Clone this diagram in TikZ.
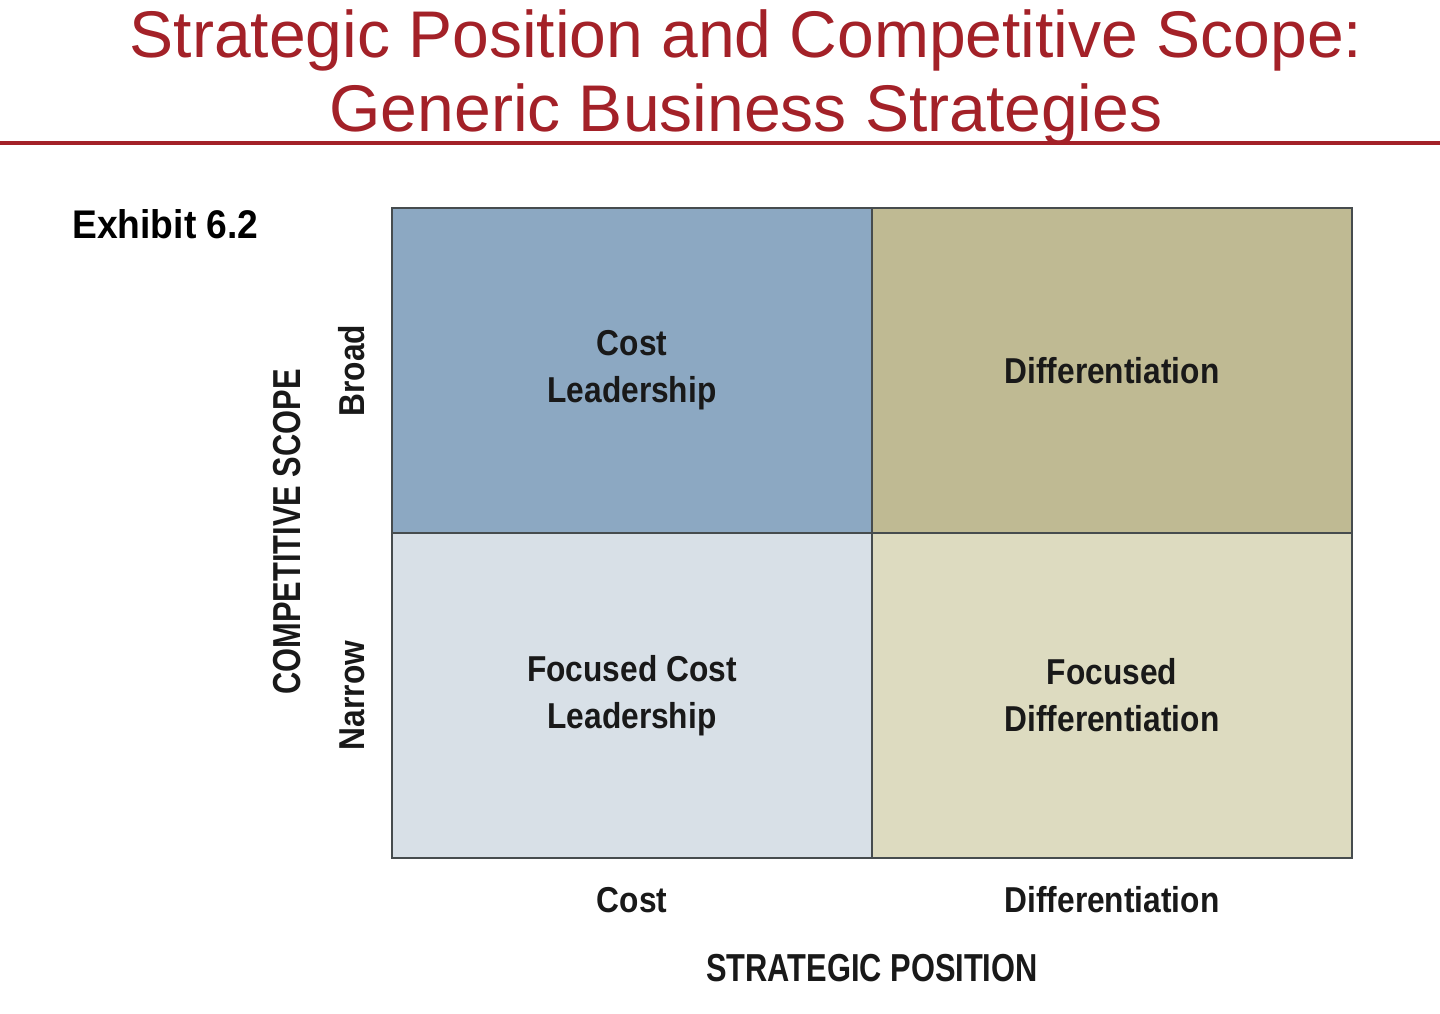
\documentclass[tikz,border=0pt]{standalone}
\usepackage{fontspec}
\setmainfont{Liberation Sans}
\newfontfamily\cellfont[FakeStretch=0.88]{Liberation Sans}
\newfontfamily\capsfont[FakeStretch=0.79]{Liberation Sans}
\newfontfamily\exhibitfont[FakeStretch=0.93]{Liberation Sans}
\usetikzlibrary{positioning}
\definecolor{titlered}{RGB}{163,33,40}
\definecolor{costbroad}{RGB}{140,168,194}
\definecolor{diffbroad}{RGB}{191,186,147}
\definecolor{costnarrow}{RGB}{216,224,231}
\definecolor{diffnarrow}{RGB}{221,219,192}
\definecolor{gridline}{RGB}{70,76,78}
\newcommand{\cellw}{240pt}
\newcommand{\cellh}{162.5pt}

\begin{document}
\begin{tikzpicture}[x=0.5pt,y=0.5pt]
    \useasboundingbox (0,0) rectangle (1440,1013);
    %\draw[help lines] (0,0) grid[step=100] (1440,1013);
    \tikzset{
        cell/.style = {draw=gridline, line width=1pt, minimum width=\cellw, minimum height=\cellh,
                       inner sep=0pt, align=center, text=black!90,
                       font=\cellfont\bfseries\fontsize{18}{23.5}\selectfont},
        tick/.style = {inner sep=0pt, text=black!90, font=\cellfont\bfseries\fontsize{18}{23.5}\selectfont},
        axis/.style = {inner sep=0pt, text=black!90, font=\capsfont\bfseries\fontsize{19.5}{23}\selectfont},
        heading/.style = {inner sep=0pt, anchor=base, text=titlered, font=\fontsize{33}{38.5}\selectfont}
    }
    % title
    \node[heading] (title1) at (746,955) {Strategic Position and Competitive Scope:};
    \node[heading] (title2) at (746,881) {Generic Business Strategies};
    \coordinate (ruleL) at (0,870);
    \coordinate (ruleR) at (1440,870);
    \draw[titlered, line width=2pt] (ruleL) -- (ruleR);

    \node[inner sep=0pt, anchor=base west, font=\exhibitfont\bfseries\fontsize{20}{24}\selectfont] (exhibit) at (72,774) {Exhibit 6.2};

    % matrix
    \node[cell, fill=costbroad] (costbroad) at (632,642.5) {Cost\\Leadership};
    \node[cell, fill=diffbroad] (diffbroad) at (1112,642.5) {Differentiation};
    \node[cell, fill=costnarrow] (costnarrow) at (632,317.5) {Focused Cost\\Leadership};
    \node[cell, fill=diffnarrow] (diffnarrow) at (1112,317.5) {Focused\\Differentiation};

    % axes
    \node[tick] (cost) at (632,113) {Cost};
    \node[tick] (diff) at (1112,113) {Differentiation};
    \node[axis] (position) at (872,45) {STRATEGIC POSITION};

    \node[tick, rotate=90] (broad) at (352,642.5) {Broad};
    \node[tick, rotate=90] (narrow) at (352,317.5) {Narrow};
    \node[axis, rotate=90] (scope) at (287,481) {COMPETITIVE SCOPE};
\end{tikzpicture}
\end{document}
